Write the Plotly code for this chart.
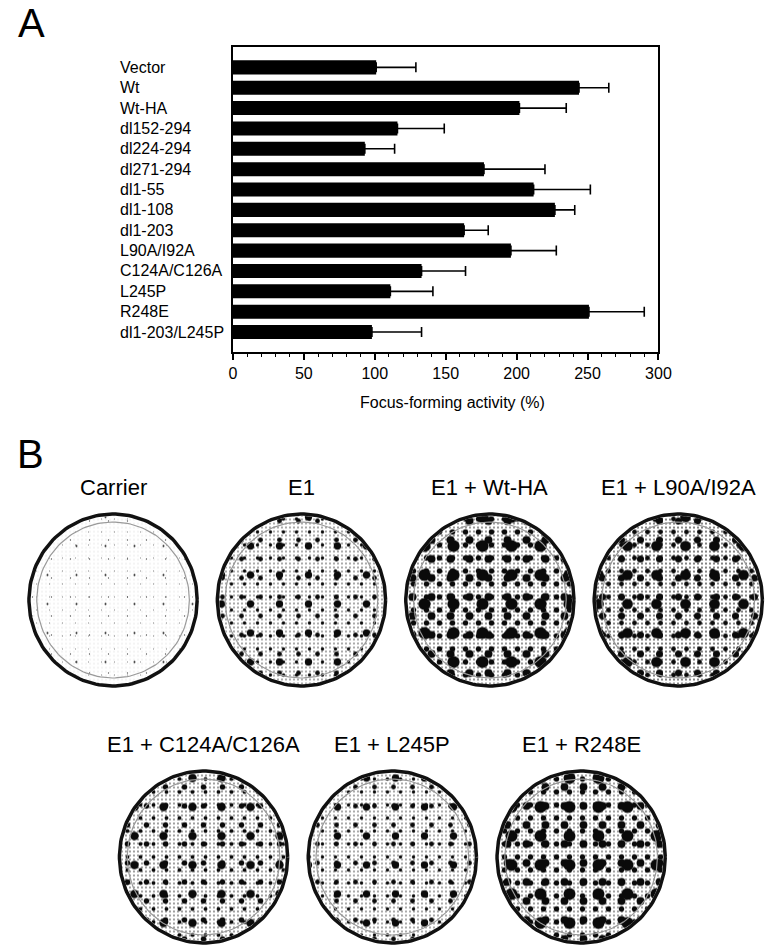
import numpy as np
import plotly.graph_objects as go

FONT = "Liberation Sans, Arial, Helvetica, sans-serif"
W, H = 781, 947

# panel A: focus-forming activity (%), mean and upper SD
constructs = ["Vector", "Wt", "Wt-HA", "dl152-294", "dl224-294", "dl271-294",
              "dl1-55", "dl1-108", "dl1-203", "L90A/I92A", "C124A/C126A",
              "L245P", "R248E", "dl1-203/L245P"]
activity = [101, 244, 202, 116, 93, 177, 212, 227, 163, 196, 133, 111, 251, 98]
activity_sd = [28, 21, 33, 33, 21, 43, 40, 14, 17, 32, 31, 30, 39, 35]
x_ticks = [0, 50, 100, 150, 200, 250, 300]

# panel B: plates, rough fraction of the dish covered by small / large foci
plates_row1 = ["Carrier", "E1", "E1 + Wt-HA", "E1 + L90A/I92A"]
plates_row2 = ["E1 + C124A/C126A", "E1 + L245P", "E1 + R248E"]
small_foci = [0.01, 0.08, 0.12, 0.14, 0.10, 0.08, 0.10]
large_foci = [0.01, 0.15, 0.42, 0.32, 0.20, 0.15, 0.40]


def main():
    fig = go.Figure()

    # ---- panel A
    fig.add_trace(go.Bar(
        x=activity, y=constructs, orientation="h", width=0.69,
        marker=dict(color="black", line=dict(width=0)),
        error_x=dict(type="data", symmetric=False, array=activity_sd,
                     arrayminus=[0] * len(activity_sd),
                     color="black", thickness=1.6, width=5),
        showlegend=False, hoverinfo="x+y",
    ))

    annotations = []
    for c in constructs:
        annotations.append(dict(
            text=c, x=117 / W, xref="paper", y=c, yref="y",
            xanchor="left", yanchor="middle", showarrow=False,
            font=dict(family=FONT, size=16, color="black")))
    annotations.append(dict(
        text="Focus-forming activity (%)", x=458 / W, y=1 - 402 / H,
        xref="paper", yref="paper", xanchor="center", yanchor="middle",
        showarrow=False, font=dict(family=FONT, size=16, color="black")))
    annotations.append(dict(
        text="A", x=12 / W, y=1 - 23 / H, xref="paper", yref="paper",
        xanchor="left", yanchor="middle", showarrow=False,
        font=dict(family=FONT, size=40, color="black")))
    annotations.append(dict(
        text="B", x=11 / W, y=1 - 454 / H, xref="paper", yref="paper",
        xanchor="left", yanchor="middle", showarrow=False,
        font=dict(family=FONT, size=40, color="black")))

    # ---- panel B: plates drawn in pixel units on x2/y2
    t = np.linspace(0, 2 * np.pi, 160)
    r = 86
    dishes = []
    for i, name in enumerate(plates_row1):
        dishes.append((name, 111.5 + 192.6 * i, 600))
    for i, name in enumerate(plates_row2):
        dishes.append((name, 204 + 193 * i, 857))

    big_pitches = [13, 19, 29]
    for k, (name, cx, cy) in enumerate(dishes):
        xs = cx + (r - 2) * np.cos(t)
        ys = cy + (r - 2) * np.sin(t)
        # overlapping dot lattices of unrelated pitch -> foci
        layers = [(4, small_foci[k], "white")]
        layers += [(p, large_foci[k] / len(big_pitches), "rgba(0,0,0,0)")
                   for p in big_pitches]
        for size, sol, bg in layers:
            fig.add_trace(go.Scatter(
                x=xs, y=ys, fill="toself", mode="lines", line=dict(width=0),
                fillpattern=dict(shape=".", fgcolor="#0a0a0a", bgcolor=bg,
                                 fgopacity=1, size=size, solidity=sol),
                xaxis="x2", yaxis="y2", showlegend=False, hoverinfo="skip"))
        fig.add_trace(go.Scatter(
            x=cx + (r - 8) * np.cos(t), y=cy + (r - 8) * np.sin(t),
            mode="lines", line=dict(color="#999", width=1.2),
            xaxis="x2", yaxis="y2", showlegend=False, hoverinfo="skip"))
        fig.add_trace(go.Scatter(
            x=cx + r * np.cos(t), y=cy + r * np.sin(t),
            mode="lines", line=dict(color="#111", width=3.5),
            xaxis="x2", yaxis="y2", showlegend=False, hoverinfo="skip"))
        annotations.append(dict(
            text=name, x=cx, y=cy - r - 27, xref="x2", yref="y2",
            xanchor="center", yanchor="middle", showarrow=False,
            font=dict(family=FONT, size=22, color="black")))

    fig.update_layout(
        width=W, height=H,
        margin=dict(l=0, r=0, t=0, b=0),
        paper_bgcolor="white", plot_bgcolor="white",
        font=dict(family=FONT, color="black"),
        xaxis=dict(
            domain=[234 / W, 669 / W], range=[0, 300],
            tickmode="array", tickvals=x_ticks,
            ticks="outside", ticklen=6, tickwidth=1.5, tickcolor="black",
            minor=dict(tickmode="linear", tick0=0, dtick=10, ticks="outside",
                       ticklen=3, tickwidth=1, tickcolor="black"),
            showline=True, mirror=True, linecolor="black", linewidth=1.5,
            showgrid=False, zeroline=False,
            tickfont=dict(family=FONT, size=16, color="black"),
            anchor="y", fixedrange=True,
        ),
        yaxis=dict(
            domain=[1 - 352 / H, 1 - 47 / H], range=[13.98, -1.0],
            showticklabels=False, ticks="",
            showline=True, mirror=True, linecolor="black", linewidth=1.5,
            showgrid=False, zeroline=False, anchor="x", fixedrange=True,
        ),
        xaxis2=dict(domain=[0, 1], range=[0, W], visible=False,
                    anchor="y2", fixedrange=True),
        yaxis2=dict(domain=[0, 0.5], range=[H, H / 2], visible=False,
                    anchor="x2", fixedrange=True),
        annotations=annotations,
    )

    # no page margin / scrollbars so the 781x947 figure fills the window
    fig.write_html(
        "out.html",
        config=dict(displayModeBar=False),
        post_script="document.documentElement.style.overflow='hidden';"
                    "document.body.style.margin='0';"
                    "document.body.style.overflow='hidden';")


if __name__ == "__main__":
    main()
